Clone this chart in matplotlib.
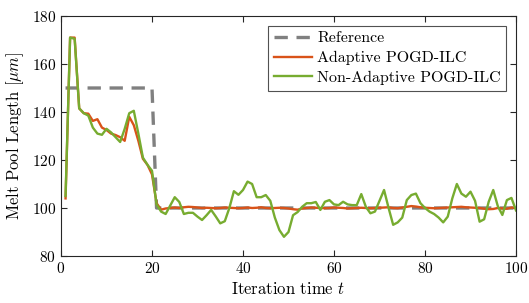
import matplotlib
matplotlib.use("Agg")
import matplotlib.pyplot as plt
import numpy as np

plt.rcParams['font.family'] = 'serif'
plt.rcParams['font.serif'] = ['cmr10', 'DejaVu Serif']
plt.rcParams['mathtext.fontset'] = 'cm'
plt.rcParams['axes.formatter.use_mathtext'] = True

t = list(range(1, 101))

reference = [150] * 20 + [100] * 80

adaptive = [104, 171, 171, 141.5, 139.5, 139.3, 136.3, 137, 133.5, 132.5,
            131, 130.4, 129.5, 128, 138, 134.5, 128, 120.5, 118, 114,
            102, 99.3, 99.8, 100, 100.2, 100, 100.3, 100.5, 100.4, 100.2,
            100, 100.1, 100, 99.9, 100, 100.2, 100.1, 100, 99.9, 100,
            100.2, 100, 100.1, 100.3, 100, 99.9, 100, 100.1, 100, 99.8,
            99.5, 99.3, 99.8, 100, 100.2, 100.1, 100, 99.9, 100, 100.2,
            100.1, 100, 99.8, 99.9, 100, 100.1, 100, 99.9, 100, 100.1,
            100.2, 100.3, 100, 99.9, 100.2, 100.5, 100.8, 100.6, 100.3, 100.1,
            100, 99.9, 100, 100.1, 100.2, 100.3, 100.4, 100.5, 100.3, 100.2,
            100.1, 100, 99.7, 99.5, 99.6, 100, 99.8, 99.7, 100.2, 100]

non_adaptive = [105, 171, 170.5, 141.5, 139.5, 138.5, 133.5, 131, 130.5, 133,
                131.5, 129.5, 127.5, 133, 139.5, 140.5, 131, 121, 118, 115.5,
                101.5, 98.5, 97.5, 101, 104.5, 102.5, 97.5, 98, 98, 96.4,
                95, 97, 99.2, 96.5, 93.6, 94.5, 100, 107, 105.5, 107.5,
                111, 110, 104.5, 104.5, 105.4, 103, 96, 90.8, 88, 90,
                97, 98.3, 100.5, 102, 102, 102.5, 99.2, 102.6, 103.3, 101.5,
                101.2, 102.6, 101.5, 101.2, 101.2, 105.8, 100.5, 97.8, 98.5, 103,
                107.5, 100, 93, 94, 96, 103.3, 105.4, 106, 102, 100,
                98.5, 97.5, 96, 94, 96.4, 104, 110, 106, 104.7, 106.8,
                103, 94.3, 95.3, 102.6, 107.5, 100.8, 97.1, 103.3, 104.2, 99]

fig = plt.figure(figsize=(5.29, 3.03), dpi=100)
ax = fig.add_axes([61/529, 1-256/303, (516-61)/529, (256-16)/303])

ax.plot(t, reference, color='#808080', lw=2.4, ls=(0, (4, 2.6)), label='Reference')
ax.plot(t, adaptive, color='#D95319', lw=1.7, label='Adaptive POGD-ILC')
ax.plot(t, non_adaptive, color='#77AC30', lw=1.7, label='Non-Adaptive POGD-ILC')

ax.set_xlim(0, 100)
ax.set_ylim(80, 180)
ax.set_xticks([0, 20, 40, 60, 80, 100])
ax.set_yticks([80, 100, 120, 140, 160, 180])
ax.tick_params(direction='in', top=True, right=True, labelsize=11, length=4,
               color='#262626', width=0.8)
for s in ax.spines.values():
    s.set_color('#262626')
    s.set_linewidth(0.8)

ax.set_xlabel(r'Iteration time $t$', fontsize=12)
ax.set_ylabel(r'Melt Pool Length [$\mu m$]', fontsize=12)

leg = ax.legend(loc='upper right', fontsize=11.5, frameon=True, fancybox=False,
                edgecolor='#262626', handlelength=2.4, handletextpad=0.3,
                borderpad=0.35, labelspacing=0.35, borderaxespad=0.6)
leg.get_frame().set_linewidth(0.8)

fig.savefig('out.png', dpi=100)
